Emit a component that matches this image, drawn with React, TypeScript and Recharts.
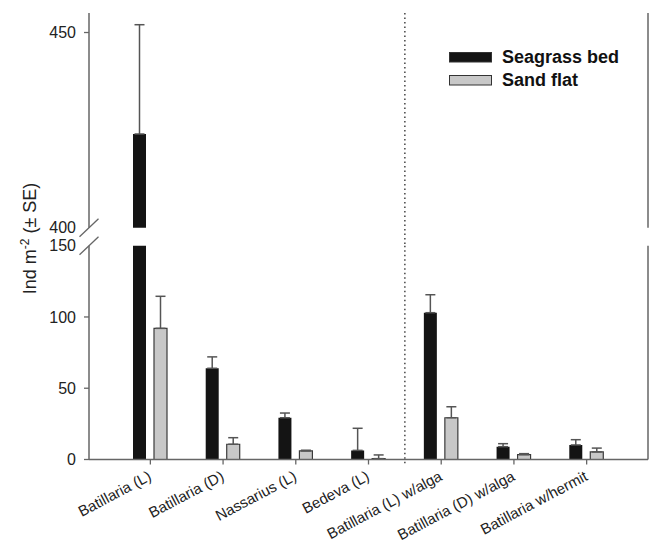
import { BarChart, Bar, XAxis, YAxis, ErrorBar, ReferenceLine, Legend } from "recharts";

const categories = [
  "Batillaria (L)",
  "Batillaria (D)",
  "Nassarius (L)",
  "Bedeva (L)",
  "Batillaria (L) w/alga",
  "Batillaria (D) w/alga",
  "Batillaria w/hermit",
];
const seriesNames = ["Seagrass bed", "Sand flat"];
const seagrass = [424, 64, 29.3, 6.4, 103, 9, 10.2];
const seagrassSE = [28, 8, 3.3, 15.5, 12.6, 2.1, 3.7];
const sandFlat = [92, 10.7, 6, 0.6, 29.3, 3.4, 5.3];
const sandFlatSE = [22.5, 4.6, 0.5, 2.6, 7.7, 0.7, 2.7];
// séparation pointillée après cette catégorie
const dividerAfter = categories[3];

const upperDomain: [number, number] = [400, 455];
const lowerDomain: [number, number] = [0, 150];
const upperTicks = [400, 450];
const lowerTicks = [0, 50, 100, 150];

const FONT = '"Liberation Sans", Arial, sans-serif';
const AXIS = "#666";
const TEXT = "#222";

// valeurs au-dessus de la coupure -> panneau du haut
const upperData = categories.map((name, i) => {
  const hiS = seagrass[i] > upperDomain[0];
  const hiF = sandFlat[i] > upperDomain[0];
  return {
    name,
    seagrass: hiS ? seagrass[i] : null,
    seagrassErr: hiS ? [0, seagrassSE[i]] : null,
    sand: hiF ? sandFlat[i] : null,
    sandErr: hiF ? [0, sandFlatSE[i]] : null,
  };
});

const lowerData = categories.map((name, i) => ({
  name,
  seagrass: seagrass[i],
  seagrassErr: [0, seagrassSE[i]],
  sand: sandFlat[i],
  sandErr: [0, sandFlatSE[i]],
}));

// tick de l'axe gauche : libellé + petit trait, ou double barre oblique sur la coupure
const leftTick = (breakValue: number) => (props: any) => {
  const { x, y, payload } = props;
  const isBreak = payload.value === breakValue;
  return (
    <g>
      {isBreak ? (
        <line x1={x - 9.5} y1={y + 9} x2={x + 9.5} y2={y - 9} stroke={AXIS} strokeWidth={1.3} />
      ) : (
        <line x1={x - 5} y1={y} x2={x} y2={y} stroke={AXIS} strokeWidth={1.3} />
      )}
      <text x={x - 13} y={y} dy="0.35em" textAnchor="end" fontSize={16} fill={TEXT} fontFamily={FONT}>
        {payload.value}
      </text>
    </g>
  );
};

const rightTick = (props: any) => {
  const { x, y } = props;
  return <line x1={x - 6} y1={y + 6} x2={x + 6} y2={y - 6} stroke={AXIS} strokeWidth={1.3} />;
};

const xTick = (props: any) => {
  const { x, y, payload } = props;
  return (
    <g transform={`translate(${x + 2},${y + 15})`}>
      <text textAnchor="end" transform="rotate(-28)" fontSize={15} fill={TEXT} fontFamily={FONT}>
        {payload.value}
      </text>
    </g>
  );
};

const renderLegend = (props: any) => {
  const items = [...(props.payload || [])].sort(
    (a: any, b: any) => seriesNames.indexOf(a.value) - seriesNames.indexOf(b.value)
  );
  return (
    <div>
      {items.map((entry: any) => (
        <div key={entry.value} style={{ display: "flex", alignItems: "center", height: 23 }}>
          <svg width={43} height={11}>
            <rect x={0.5} y={0.5} width={42} height={9.5} fill={entry.color} stroke="#333" strokeWidth={1} />
          </svg>
          <span style={{ marginLeft: 10, fontFamily: FONT, fontWeight: "bold", fontSize: 18, color: "#111" }}>
            {entry.value}
          </span>
        </div>
      ))}
    </div>
  );
};

const yLabel = () => (
  <text
    transform="translate(36,238.5) rotate(-90)"
    textAnchor="middle"
    fontSize={18}
    fill={TEXT}
    fontFamily={FONT}
  >
    Ind m<tspan dy={-7} fontSize={12}>-2</tspan>
    <tspan dy={7}> (± SE)</tspan>
  </text>
);

const W = 660;
const H = 545;
const PAD = { left: 25, right: 25 };

export default function App() {
  return (
    <div style={{ position: "absolute", left: 0, top: 0, width: W, height: H, background: "#fff", fontFamily: FONT }}>
      {/* panneau du haut : 400 - 455 */}
      <div style={{ position: "absolute", left: 0, top: 0 }}>
        <BarChart
          width={W}
          height={H}
          data={upperData}
          margin={{ top: 13, right: 0, bottom: H - 227.7, left: 0 }}
          barSize={13}
          barGap={8}
        >
          <XAxis
            dataKey="name"
            orientation="top"
            height={0}
            padding={PAD}
            tick={false}
            tickLine={false}
            axisLine={{ stroke: AXIS, strokeWidth: 1.5 }}
          />
          <YAxis
            domain={upperDomain}
            ticks={upperTicks}
            width={89}
            tickSize={0}
            tickMargin={0}
            tickLine={false}
            tick={leftTick(400)}
            axisLine={{ stroke: AXIS, strokeWidth: 1.5 }}
          />
          <YAxis
            yAxisId="r"
            orientation="right"
            domain={upperDomain}
            ticks={[400]}
            width={12}
            tickSize={0}
            tickMargin={0}
            tickLine={false}
            tick={rightTick}
            axisLine={{ stroke: AXIS, strokeWidth: 1.5 }}
          />
          <ReferenceLine
            segment={[{ x: dividerAfter, y: 455 }, { x: dividerAfter, y: 395.5 }]}
            position="end"
            ifOverflow="visible"
            stroke="#444"
            strokeWidth={1.5}
            strokeDasharray="1.5 3"
          />
          <Bar dataKey="seagrass" name={seriesNames[0]} fill="#141414" isAnimationActive={false}>
            <ErrorBar dataKey="seagrassErr" width={5} stroke="#555" strokeWidth={1.5} direction="y" />
          </Bar>
          <Bar dataKey="sand" name={seriesNames[1]} fill="#c8c8c8" stroke="#3a3a3a" strokeWidth={1.2} isAnimationActive={false}>
            <ErrorBar dataKey="sandErr" width={5} stroke="#555" strokeWidth={1.5} direction="y" />
          </Bar>
          <Legend
            layout="vertical"
            align="center"
            verticalAlign="middle"
            wrapperStyle={{ left: 449, top: 45.5, width: 200 }}
            content={renderLegend}
          />
        </BarChart>
      </div>

      {/* panneau du bas : 0 - 150 */}
      <div style={{ position: "absolute", left: 0, top: 0 }}>
        <BarChart
          width={W}
          height={H}
          data={lowerData}
          margin={{ top: 245.7, right: 0, bottom: 0, left: 0 }}
          barSize={13}
          barGap={8}
        >
          <XAxis
            dataKey="name"
            height={H - 459.5}
            padding={PAD}
            interval={0}
            tickSize={5}
            tickMargin={0}
            tick={xTick}
            tickLine={{ stroke: AXIS, strokeWidth: 1.3 }}
            axisLine={{ stroke: AXIS, strokeWidth: 1.5 }}
          />
          <YAxis
            domain={lowerDomain}
            ticks={lowerTicks}
            allowDataOverflow
            width={89}
            tickSize={0}
            tickMargin={0}
            tickLine={false}
            tick={leftTick(150)}
            axisLine={{ stroke: AXIS, strokeWidth: 1.5 }}
            label={{ content: yLabel }}
          />
          <YAxis
            yAxisId="r"
            orientation="right"
            domain={lowerDomain}
            ticks={[150]}
            width={12}
            tickSize={0}
            tickMargin={0}
            tickLine={false}
            tick={rightTick}
            axisLine={{ stroke: AXIS, strokeWidth: 1.5 }}
          />
          <ReferenceLine
            segment={[{ x: dividerAfter, y: 150 }, { x: dividerAfter, y: -4 }]}
            position="end"
            ifOverflow="visible"
            stroke="#444"
            strokeWidth={1.5}
            strokeDasharray="1.5 3"
          />
          <Bar dataKey="seagrass" name={seriesNames[0]} fill="#141414" isAnimationActive={false}>
            <ErrorBar dataKey="seagrassErr" width={5} stroke="#555" strokeWidth={1.5} direction="y" />
          </Bar>
          <Bar dataKey="sand" name={seriesNames[1]} fill="#c8c8c8" stroke="#3a3a3a" strokeWidth={1.2} isAnimationActive={false}>
            <ErrorBar dataKey="sandErr" width={5} stroke="#555" strokeWidth={1.5} direction="y" />
          </Bar>
        </BarChart>
      </div>
    </div>
  );
}
